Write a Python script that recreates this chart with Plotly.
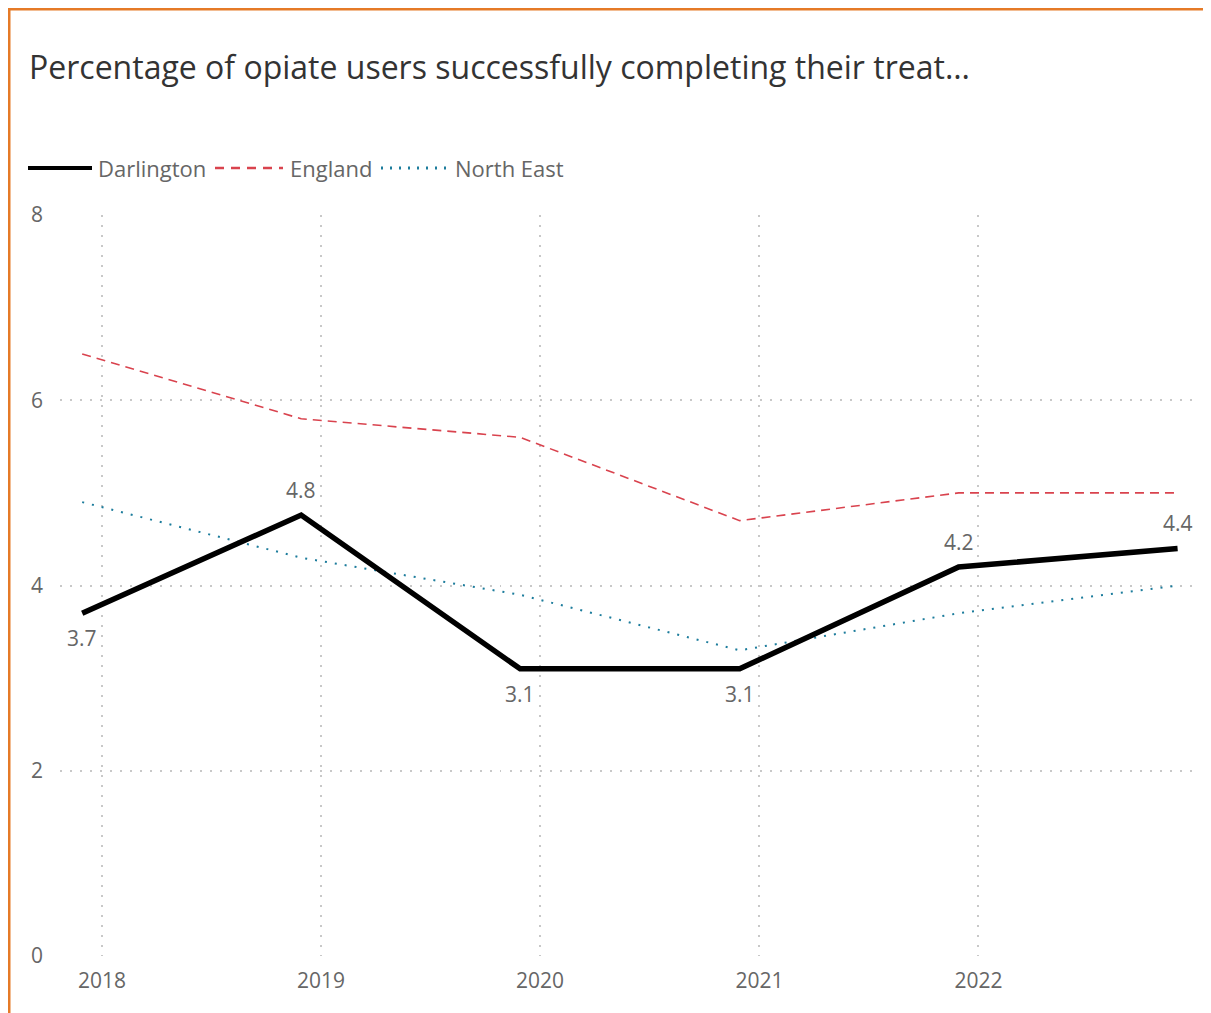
import plotly.graph_objects as go

periods = ["2017-11-29", "2018-11-29", "2019-11-29", "2020-11-29", "2021-11-29", "2022-11-29"]
darlington = [3.7, 4.76, 3.1, 3.1, 4.2, 4.4]
england = [6.5, 5.8, 5.6, 4.7, 5.0, 5.0]
north_east = [4.9, 4.3, 3.9, 3.3, 3.7, 4.0]
label_side = [-1, 1, -1, -1, 1, 1]  # below / above

FONT = "Segoe UI, Open Sans, sans-serif"
TXT = "#666666"
OFF = 8  # page body margin
FW, FH = 1211 - OFF, 1013 - OFF

fig = go.Figure()
fig.add_trace(go.Scatter(x=periods, y=england, mode="lines", name="England",
                         line=dict(color="#D9434E", width=1.6, dash="9px,6px")))
fig.add_trace(go.Scatter(x=periods, y=north_east, mode="lines", name="North East",
                         line=dict(color="#1C7C9C", width=2, dash="2px,8px")))
fig.add_trace(go.Scatter(x=periods, y=darlington, mode="lines", name="Darlington",
                         line=dict(color="#000000", width=5.5)))

annotations = []
for x, v, s in zip(periods, darlington, label_side):
    annotations.append(dict(x=x, y=v, xref="x", yref="y", text=f"{v:.1f}",
                            showarrow=False, yshift=25 * s,
                            font=dict(family=FONT, size=21, color=TXT)))

# plot area pixel geometry (page coords minus body offset)
L, R, T, B = 60 - OFF, 1192 - OFF, 215 - OFF, 956 - OFF
W, H = R - L, B - T
def px(x):
    return (x - OFF - L) / W
def py(y):
    return (B - (y - OFF)) / H

shapes = []
# custom legend
legend_items = [
    ("Darlington", 28, 92, 96, dict(color="#000000", width=4)),
    ("England", 215, 283, 288, dict(color="#D9434E", width=2.5, dash="9px,7px")),
    ("North East", 381, 447, 453, dict(color="#1C7C9C", width=3, dash="2px,7px")),
]
for name, x0, x1, tx, ln in legend_items:
    shapes.append(dict(type="line", xref="paper", yref="paper",
                       x0=px(x0), x1=px(x1), y0=py(168), y1=py(168), line=ln))
    annotations.append(dict(x=px(tx), y=py(168), xref="paper", yref="paper",
                            text=name, showarrow=False, xanchor="left", yanchor="middle",
                            font=dict(family=FONT, size=22, color=TXT)))

# orange border (top & left)
shapes.append(dict(type="rect", xref="paper", yref="paper",
                   x0=px(8.5), x1=px(1240), y0=py(8.5), y1=py(1040),
                   line=dict(color="#E57A27", width=4), layer="above"))

fig.update_layout(
    width=FW, height=FH,
    margin=dict(l=L, r=FW - R, t=T, b=FH - B),
    paper_bgcolor="white", plot_bgcolor="white",
    showlegend=False,
    title=dict(text="Percentage of opiate users successfully completing their treat…",
               x=(29 - OFF) / FW, xanchor="left", y=1 - (68 - OFF) / FH, yanchor="middle",
               xref="container", yref="container",
               font=dict(family=FONT, size=32, color="#333333")),
    annotations=annotations,
    shapes=shapes,
    font=dict(family=FONT, color=TXT),
)
fig.update_xaxes(type="date", range=["2017-10-23", "2022-12-23"],
                 tickformat="%Y", dtick="M12", tick0="2018-01-01",
                 showgrid=True, gridcolor="#C8C8C8", griddash="1.5px,8.5px", gridwidth=1.5,
                 showline=False, zeroline=False, ticks="", ticklabelstandoff=10,
                 tickfont=dict(family=FONT, size=21, color=TXT))
fig.update_yaxes(range=[0, 8], dtick=2, tick0=0,
                 showgrid=True, gridcolor="#C8C8C8", griddash="1.5px,8.5px", gridwidth=1.5,
                 showline=False, zeroline=False, ticks="", ticklabelstandoff=16,
                 tickfont=dict(family=FONT, size=21, color=TXT))

fig.write_html("out.html")
